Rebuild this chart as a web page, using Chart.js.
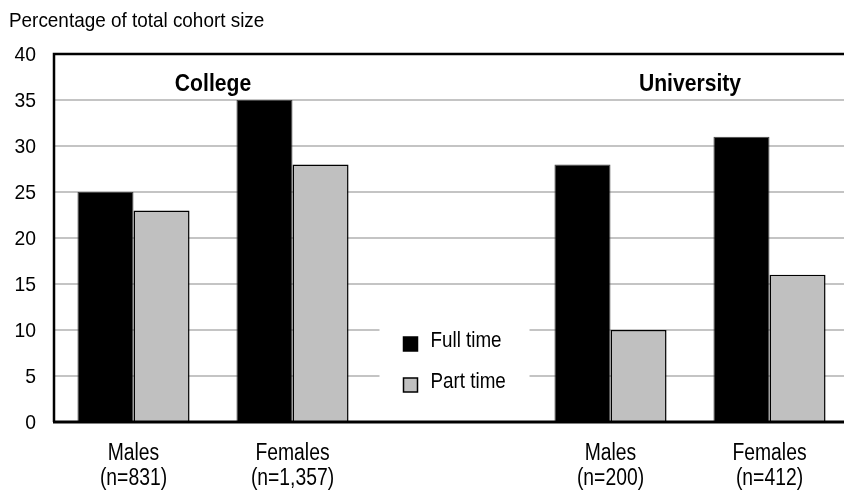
<!DOCTYPE html>
<html>
<head>
<meta charset="utf-8">
<script src="https://cdn.jsdelivr.net/npm/chart.js@4.4.1/dist/chart.umd.min.js"></script>
<style>
	html, body { margin: 0; padding: 0; background: #fff; overflow: hidden; width: 844px; height: 492px; }
	#wrap { width: 852px; height: 492px; }
</style>
</head>
<body>
<div id="wrap"><canvas id="chart" width="852" height="492"></canvas></div>
<script>
// Chart data
const categories = [['Males', '(n=831)'], ['Females', '(n=1,357)'], '', ['Males', '(n=200)'], ['Females', '(n=412)']];
const fullTime = [25, 35, null, 28, 31];
const partTime = [23, 28, null, 10, 16];
const seriesNames = ['Full time', 'Part time'];
const groupLabels = ['College', 'University'];
const yMin = 0, yMax = 40, yStep = 5;
const axisTitle = 'Percentage of total cohort size';

const FONT = "'Liberation Sans', Arial, sans-serif";
Chart.defaults.font.family = FONT;
Chart.defaults.color = '#000';

// no narrow face is installed, so squeeze the regular one horizontally
function narrowText(ctx, text, x, y, size, sx, align, bold) {
	ctx.save();
	ctx.font = (bold ? 'bold ' : '') + size + 'px ' + FONT;
	ctx.textAlign = align;
	ctx.textBaseline = 'middle';
	ctx.translate(x, y);
	ctx.scale(sx, 1);
	ctx.fillText(text, 0, 0);
	ctx.restore();
}

// frame, tick labels, group headings, legend box and axis title
const extras = {
	id: 'extras',
	afterDatasetsDraw(chart) {
		const ctx = chart.ctx, a = chart.chartArea;
		const x = chart.scales.x, y = chart.scales.y;
		ctx.save();

		// frame: left, top, bottom
		ctx.strokeStyle = '#000';
		ctx.lineWidth = 2.5;
		ctx.beginPath();
		ctx.moveTo(a.right + 5, a.top);
		ctx.lineTo(a.left, a.top);
		ctx.lineTo(a.left, a.bottom);
		ctx.stroke();
		ctx.lineWidth = 3;
		ctx.beginPath();
		ctx.moveTo(a.left - 1, a.bottom);
		ctx.lineTo(a.right + 5, a.bottom);
		ctx.stroke();

		ctx.fillStyle = '#000';

		// y tick labels
		y.ticks.forEach(t => {
			narrowText(ctx, String(t.value), a.left - 18, y.getPixelForValue(t.value) + 1, 21, 0.92, 'right');
		});

		// x tick labels (two lines each)
		chart.data.labels.forEach((lab, i) => {
			const lines = Array.isArray(lab) ? lab : [lab];
			lines.forEach((s, k) => {
				narrowText(ctx, s, x.getPixelForValue(i), a.bottom + 32 + k * 25, 23, 0.84, 'center');
			});
		});

		// group headings
		const hy = y.getPixelForValue(36.7);
		narrowText(ctx, groupLabels[0], (x.getPixelForValue(0) + x.getPixelForValue(1)) / 2, hy, 24, 0.88, 'center', true);
		narrowText(ctx, groupLabels[1], (x.getPixelForValue(3) + x.getPixelForValue(4)) / 2, hy, 24, 0.88, 'center', true);

		// legend in the empty middle slot
		const cx = x.getPixelForValue(2);
		ctx.fillStyle = '#fff';
		ctx.fillRect(cx - 72, y.getPixelForValue(12.5), 150, y.getPixelForValue(1.5) - y.getPixelForValue(12.5));
		chart.data.datasets.forEach((ds, i) => {
			const ly = 341 + i * 41;
			ctx.fillStyle = ds.backgroundColor;
			ctx.fillRect(cx - 48, ly - 4, 14, 14);
			ctx.lineWidth = 1.5;
			ctx.strokeStyle = '#000';
			ctx.strokeRect(cx - 48, ly - 4, 14, 14);
			ctx.fillStyle = '#000';
			narrowText(ctx, ds.label, cx - 21, ly, 22, 0.855, 'left');
		});

		// axis title
		narrowText(ctx, axisTitle, 9, 21, 21, 0.9, 'left');
		ctx.restore();
	}
};

new Chart(document.getElementById('chart'), {
	type: 'bar',
	data: {
		labels: categories,
		datasets: [
			{
				label: seriesNames[0],
				data: fullTime,
				backgroundColor: '#000',
				borderColor: '#444',
				borderWidth: 1
			},
			{
				label: seriesNames[1],
				data: partTime,
				backgroundColor: '#c0c0c0',
				borderColor: '#000',
				borderWidth: 1.5
			}
		]
	},
	options: {
		responsive: false,
		devicePixelRatio: 1,
		animation: false,
		datasets: { bar: { categoryPercentage: 0.705, barPercentage: 1 } },
		layout: { padding: { top: 54, right: 3, left: 0, bottom: 0 } },
		scales: {
			x: {
				grid: { display: false },
				border: { display: false },
				ticks: { display: false },
				afterFit(s) { s.height = 70; }
			},
			y: {
				min: yMin,
				max: yMax,
				ticks: { display: false, stepSize: yStep },
				grid: { color: '#c4c4c4', lineWidth: 2, drawTicks: false },
				border: { display: false },
				afterFit(s) { s.width = 54; }
			}
		},
		plugins: {
			legend: { display: false },
			tooltip: { enabled: false }
		}
	},
	plugins: [extras]
});
</script>
</body>
</html>
